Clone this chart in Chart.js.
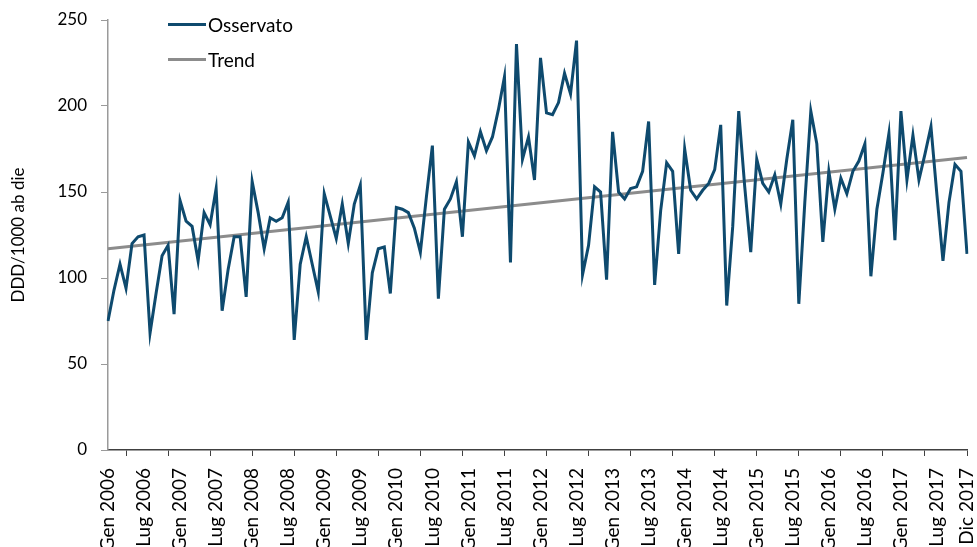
<!DOCTYPE html>
<html>
<head>
<meta charset="utf-8">
<script src="https://cdn.jsdelivr.net/npm/chart.js@4.4.0/dist/chart.umd.min.js"></script>
<style>
    html, body { margin: 0; padding: 0; background: #fff; overflow: hidden; }
    #wrap { position: relative; width: 977px; height: 547px; }
    .legend-row { position: absolute; left: 168px; display: flex; align-items: center; font: 19px Lato, sans-serif; color: #000; }
    .legend-row .sw { display: inline-block; width: 38px; height: 3px; margin-right: 2px; }
</style>
</head>
<body>
<div id="wrap">
    <canvas id="chart" width="977" height="547"></canvas>
    <div class="legend-row" style="top:13px"><span class="sw" style="background:#0e4a6e"></span>Osservato</div>
    <div class="legend-row" style="top:48px"><span class="sw" style="background:#8c8c8c"></span>Trend</div>
</div>
<script>
// Mesi e anni (Gen 2006 - Dic 2017)
const monthNames = ['Gen', 'Feb', 'Mar', 'Apr', 'Mag', 'Giu', 'Lug', 'Ago', 'Set', 'Ott', 'Nov', 'Dic'];
const years = [2006, 2007, 2008, 2009, 2010, 2011, 2012, 2013, 2014, 2015, 2016, 2017];

// DDD/1000 ab die osservato, un valore per mese
const observed = [
    75, 93, 108, 94, 120, 124, 125, 68, 91, 113, 119, 79,
    145, 133, 130, 110, 138, 131, 152, 81, 105, 124, 124, 89,
    156, 138, 117, 135, 133, 135, 144, 64, 108, 124, 108, 92,
    149, 136, 123, 143, 120, 143, 154, 64, 103, 117, 118, 91,
    141, 140, 138, 129, 115, 147, 177, 88, 140, 146, 156, 124,
    179, 171, 185, 174, 182, 198, 217, 109, 236, 169, 182, 157,
    228, 196, 195, 202, 219, 207, 238, 102, 119, 153, 150, 99,
    185, 150, 146, 152, 153, 162, 191, 96, 139, 167, 162, 114,
    175, 151, 146, 151, 155, 163, 189, 84, 130, 197, 153, 115,
    169, 155, 150, 160, 143, 169, 192, 85, 144, 197, 178, 121,
    162, 140, 158, 149, 162, 168, 178, 101, 140, 161, 184, 122,
    197, 157, 183, 157, 172, 188, 148, 110, 144, 166, 162, 114
];

// Retta di tendenza: valori al primo e all'ultimo mese
const trendStart = 117;
const trendEnd = 170;

const yTicks = [0, 50, 100, 150, 200, 250];

const labels = [];
years.forEach(y => monthNames.forEach(m => labels.push(m + ' ' + y)));
const last = labels.length - 1;
const trend = labels.map((_, i) => i === 0 ? trendStart : (i === last ? trendEnd : null));

const font = { family: 'Lato, sans-serif', size: 17 };
const xFont = { family: 'Lato, sans-serif', size: 19 };

new Chart(document.getElementById('chart'), {
    type: 'line',
    data: {
        labels: labels,
        datasets: [
            {
                label: 'Trend',
                data: trend,
                borderColor: '#8c8c8c',
                borderWidth: 3,
                spanGaps: true,
                pointRadius: 0,
                order: 2
            },
            {
                label: 'Osservato',
                data: observed,
                borderColor: '#0e4a6e',
                borderWidth: 3,
                pointRadius: 0,
                tension: 0,
                order: 1
            }
        ]
    },
    options: {
        responsive: false,
        animation: false,
        layout: { padding: { top: 20, right: 10, left: 0, bottom: 0 } },
        plugins: {
            legend: { display: false },
            tooltip: { enabled: false }
        },
        scales: {
            x: {
                offset: false,
                grid: {
                    drawOnChartArea: false,
                    drawTicks: true,
                    tickLength: 6,
                    color: ctx => (ctx.index % 7 === 3 ? '#404040' : 'rgba(0,0,0,0)')
                },
                border: { color: '#404040', width: 1.5 },
                ticks: {
                    autoSkip: false,
                    maxRotation: 90,
                    minRotation: 90,
                    padding: 12,
                    color: '#000',
                    font: xFont,
                    callback: function (val, idx) {
                        return (idx % 6 === 0 || idx === last) ? this.getLabelForValue(val) : '';
                    }
                },
                afterFit: scale => {
                    scale.height = 97;
                    scale.paddingLeft = 0;
                    scale.paddingRight = 0;
                }
            },
            y: {
                min: 0,
                max: 250,
                afterBuildTicks: scale => { scale.ticks = yTicks.map(v => ({ value: v })); },
                grid: {
                    drawOnChartArea: false,
                    tickLength: 7,
                    color: '#9a9a9a'
                },
                border: { color: '#9a9a9a', width: 1.5 },
                ticks: { padding: 14, color: '#000', font: font },
                title: {
                    display: true,
                    text: 'DDD/1000 ab die',
                    color: '#000',
                    font: font,
                    padding: { top: 8, bottom: 0 }
                },
                afterFit: scale => {
                    scale.width = 108;
                    scale.paddingTop = 0;
                    scale.paddingBottom = 0;
                }
            }
        }
    }
});
</script>
</body>
</html>
